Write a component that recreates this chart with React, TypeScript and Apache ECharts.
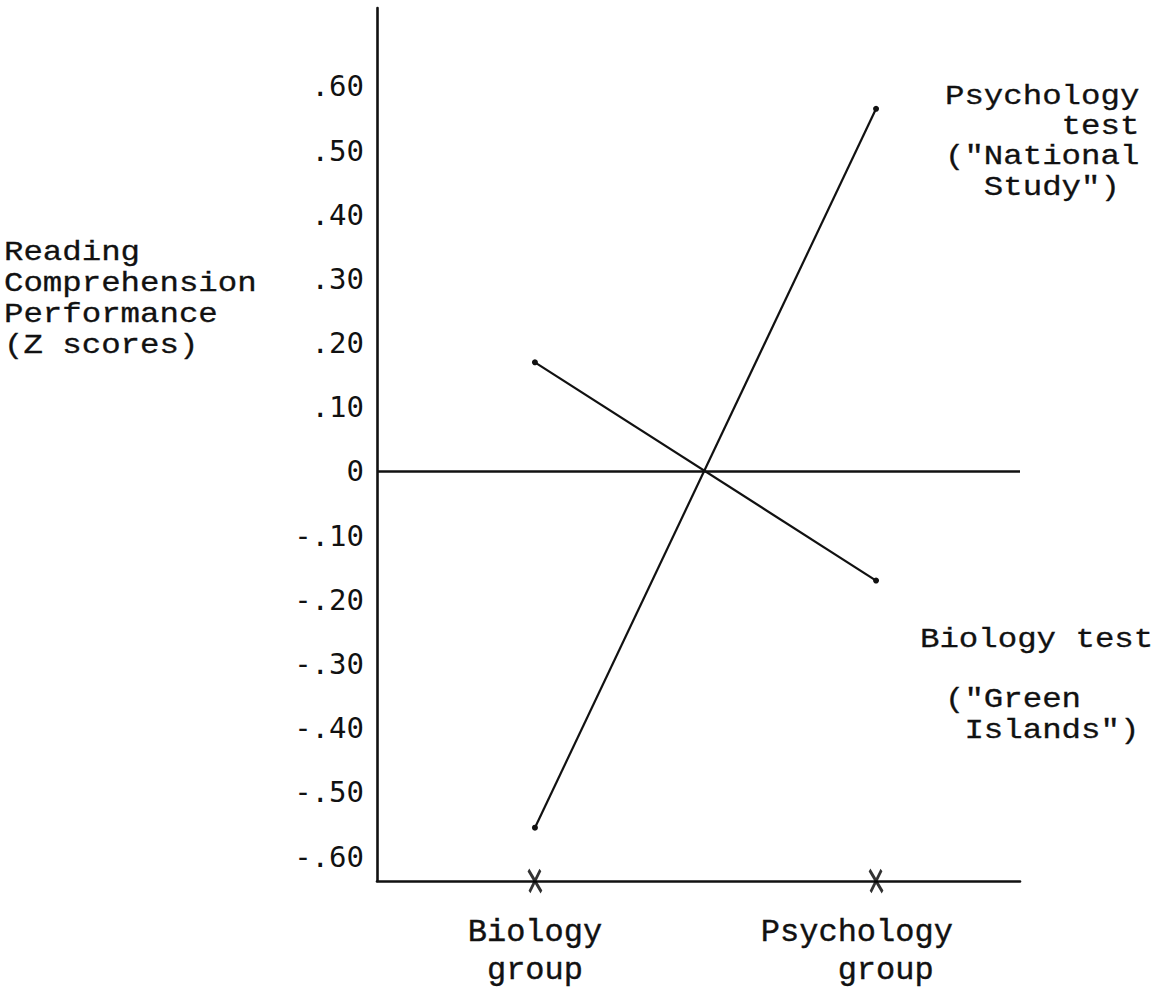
import React, { useEffect, useRef } from "react";
import * as echarts from "echarts";

// Groups along the horizontal axis (positions 1 and 2)
const groups = ["Biology", "Psychology"];
const groupPositions = [1, 2];

// Mean reading comprehension (Z scores) per group, per test
const psychologyTest = [-0.555, 0.565];
const biologyTest = [0.17, -0.17];

// Vertical axis tick values and their typed labels
const yTickValues = [0.6, 0.5, 0.4, 0.3, 0.2, 0.1, 0, -0.1, -0.2, -0.3, -0.4, -0.5, -0.6];
const yTickLabels = [".60", ".50", ".40", ".30", ".20", ".10", "0", "-.10", "-.20", "-.30", "-.40", "-.50", "-.60"];

const yTitle = ["Reading", "Comprehension", "Performance", "(Z scores)"];
const psychLabel = ["Psychology", "      test", "(\"National", "  Study\")"];
const bioLabel = ["Biology test"];
const bioSubLabel = ["(\"Green", " Islands\")"];

const Y_MIN = -0.638;
const Y_MAX = 0.722;
const X_MIN = 0.537;
const X_MAX = 2.422;

const INK = "#111111";
const NBSP = "\u00A0";
const TYPE_FONT = "'Liberation Mono', 'DejaVu Sans Mono', monospace";
const NUM_FONT = "'DejaVu Sans Mono', monospace";

// typed lines keep their leading spaces as non-breaking ones
const typedBlock = (lines: string[]) => lines.map((l) => l.replace(/ /g, NBSP)).join("\n");

export default function App() {
  const ref = useRef<HTMLDivElement>(null);

  useEffect(() => {
    if (!ref.current) return;
    const chart = echarts.init(ref.current, undefined, { renderer: "svg" });

    // typewriter-style block: a compact face stretched sideways to the wide typed pitch
    const block = (lines: string[], x: number, y: number, lineHeight: number) => ({
      type: "text",
      x,
      y,
      scaleX: 1.2,
      scaleY: 1,
      silent: true,
      style: {
        text: typedBlock(lines),
        font: `27px ${TYPE_FONT}`,
        fill: INK,
        stroke: INK,
        lineWidth: 0.3,
        lineHeight,
        textVerticalAlign: "top",
      },
    });

    // group caption under each baseline mark; the psychology caption is typed a bit to the left
    const groupCaption = (v: number) => {
      const i = Math.round(v) - 1;
      const name = groups[i];
      if (name === undefined) return "";
      if (i === 1) {
        return typedBlock([name + "  ", "    group   "]);
      }
      return typedBlock([name, "group"]);
    };

    chart.setOption({
      animation: false,
      backgroundColor: "#ffffff",
      grid: { left: 377, right: 148, top: 8, bottom: 106, containLabel: false },
      xAxis: {
        type: "value",
        min: X_MIN,
        max: X_MAX,
        axisLine: { show: true, onZero: false, lineStyle: { color: INK, width: 2.6 } },
        axisTick: { show: false },
        splitLine: { show: false },
        axisLabel: {
          customValues: groupPositions,
          formatter: groupCaption,
          fontFamily: TYPE_FONT,
          fontSize: 32,
          color: INK,
          textBorderColor: INK,
          textBorderWidth: 0.4,
          lineHeight: 38,
          margin: 32,
          align: "center",
        },
      },
      yAxis: {
        type: "value",
        min: Y_MIN,
        max: Y_MAX,
        axisLine: { show: true, lineStyle: { color: INK, width: 2.6 } },
        axisTick: { show: false },
        splitLine: { show: false },
        axisLabel: {
          customValues: yTickValues,
          formatter: (v: number) => {
            const i = yTickValues.findIndex((t) => Math.abs(t - v) < 1e-6);
            return i >= 0 ? yTickLabels[i] : "";
          },
          fontFamily: NUM_FONT,
          fontSize: 29,
          color: INK,
          margin: 13,
        },
      },
      series: [
        {
          name: "Psychology test",
          type: "line",
          data: groupPositions.map((x, i) => [x, psychologyTest[i]]),
          symbol: "circle",
          symbolSize: 6,
          lineStyle: { color: INK, width: 2.2 },
          itemStyle: { color: INK },
          markLine: {
            silent: true,
            symbol: "none",
            label: { show: false },
            lineStyle: { color: INK, width: 2.6, type: "solid" },
            data: [{ yAxis: 0 }],
          },
        },
        {
          name: "Biology test",
          type: "line",
          data: groupPositions.map((x, i) => [x, biologyTest[i]]),
          symbol: "circle",
          symbolSize: 6,
          lineStyle: { color: INK, width: 2.2 },
          itemStyle: { color: INK },
        },
        {
          // typed "x" marks where each group sits on the baseline
          name: "group marks",
          type: "scatter",
          clip: false,
          data: groupPositions.map((x) => [x, Y_MIN]),
          symbol: "path://M0,0 L12,20 M11,0 L1,20",
          symbolSize: [13, 22],
          itemStyle: { color: "none", borderColor: "#000000", borderWidth: 3.2 },
        },
      ],
      graphic: [
        block(yTitle, 4, 237, 31),
        block(psychLabel, 945, 81, 30.5),
        block(bioLabel, 920, 624, 32),
        block(bioSubLabel, 945, 684, 31),
      ],
    });

    return () => chart.dispose();
  }, []);

  return (
    <div
      ref={ref}
      style={{ position: "fixed", left: 0, top: 0, width: 1168, height: 989, background: "#fff" }}
    />
  );
}
